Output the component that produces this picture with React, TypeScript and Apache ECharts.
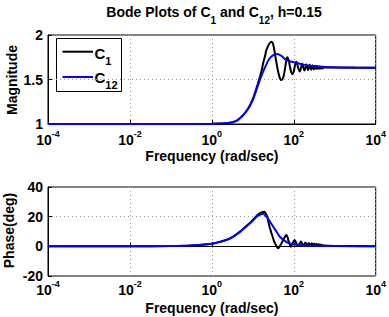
import React, { useEffect, useRef } from 'react';
import * as echarts from 'echarts';

// ---- Data (frequency in rad/sec) ----
const magFreqC1 = [1e-4, 1e-2, 0.1, 1, 2.51, 3.98, 5.01, 6.31, 7.94, 10, 12.6, 15.8, 17.8, 20, 21.4, 25, 28.6, 31.6, 35.5, 39.8, 44.7, 50, 55, 60, 65, 69, 75, 80, 87, 93, 100, 107, 116, 128, 140, 150, 160, 171, 182, 193, 203, 214, 224, 245, 266, 287, 308, 329, 350, 371, 392, 413, 434, 455, 476, 497, 518, 540, 600, 1000, 1e4];
const magC1 = [1.0, 1.0, 1.0, 1.002, 1.01, 1.036, 1.07, 1.12, 1.185, 1.28, 1.42, 1.57, 1.68, 1.77, 1.83, 1.9, 1.925, 1.89, 1.76, 1.63, 1.53, 1.494, 1.52, 1.6, 1.7, 1.75, 1.72, 1.65, 1.58, 1.56, 1.59, 1.66, 1.7, 1.63, 1.59, 1.63, 1.68, 1.635, 1.6, 1.635, 1.672, 1.635, 1.605, 1.665, 1.61, 1.66, 1.613, 1.655, 1.617, 1.652, 1.62, 1.649, 1.622, 1.647, 1.624, 1.645, 1.626, 1.643, 1.636, 1.634, 1.633];

const magFreqC12 = [1e-4, 1e-2, 0.1, 1, 2.51, 3.98, 5.01, 6.31, 7.94, 10, 12.6, 15.8, 20, 25.1, 31.6, 39.8, 50.1, 63.1, 79.4, 100, 158, 316, 794, 3162, 1e4];
const magC12 = [1.0, 1.0, 1.0, 1.002, 1.01, 1.035, 1.07, 1.12, 1.18, 1.27, 1.4, 1.53, 1.64, 1.73, 1.775, 1.787, 1.765, 1.725, 1.705, 1.695, 1.67, 1.65, 1.638, 1.634, 1.633];

const phFreqC1 = [1e-4, 1e-2, 0.1, 0.316, 1, 1.58, 2.75, 4.8, 8.5, 10, 12.6, 15.8, 18.9, 22.4, 25.1, 28.6, 33, 38, 41.4, 46.8, 55, 66, 75.9, 85, 95, 105, 118, 128, 139, 150, 171, 192, 213, 234, 255, 276, 297, 318, 339, 360, 381, 402, 423, 444, 500, 700, 1000, 1e4];
const phC1 = [0, 0, 0.2, 0.6, 1.8, 3.0, 5.3, 9.8, 15.8, 17.8, 20.8, 22.7, 23.3, 20, 14, 8.8, 3.5, 0, -1.3, 0.5, 4.2, 7.6, 3, -0.3, 2.5, 4.2, 1.5, 0.3, 1.8, 3.2, 0.5, 2.6, 0.6, 2.3, 0.6, 2.0, 0.6, 1.8, 0.6, 1.6, 0.6, 1.4, 0.6, 1.2, 0.7, 0.4, 0.3, 0];

const phFreqC12 = [1e-4, 1e-2, 0.1, 0.316, 1, 1.58, 2.75, 4.8, 8.5, 10, 12.6, 15.8, 17.8, 22.4, 26.3, 31.6, 39.8, 45.7, 63, 79.4, 126, 316, 1000, 1e4];
const phC12 = [0, 0, 0.2, 0.6, 1.8, 3.0, 5.2, 9.6, 15.5, 17.3, 20.2, 21.6, 21.9, 19.3, 16.5, 13.2, 9, 6.5, 3.3, 2.0, 0.9, 0.4, 0.15, 0];

const xTicksExp = [-4, -2, 0, 2, 4];
const magTicks = [1, 1.5, 2];
const phaseTicks = [-20, 0, 20, 40];

const FONT = '"Liberation Sans", Arial, Helvetica, sans-serif';

const zip = (f: number[], v: number[]) => f.map((x, i) => [x, v[i]]);

const xLabelFmt = (v: number) => {
  const e = Math.round(Math.log10(v));
  return `{b|10}{s|${e}}`;
};

const xAxisCommon = (gridIndex: number, margin: number) => ({
  type: 'log' as const,
  gridIndex,
  logBase: 10,
  min: Math.pow(10, xTicksExp[0]),
  max: Math.pow(10, xTicksExp[xTicksExp.length - 1]),
  interval: 2,
  name: 'Frequency (rad/sec)',
  nameLocation: 'middle' as const,
  nameGap: 25,
  nameTextStyle: { fontFamily: FONT, fontWeight: 'bold', fontSize: 14, color: '#000' },
  axisLine: { show: true, lineStyle: { color: '#000', width: 1 } },
  axisTick: { show: true, inside: true, length: 4, lineStyle: { color: '#000' } },
  minorTick: { show: false },
  splitLine: { show: true, lineStyle: { color: '#999', type: [1, 3], width: 1 } },
  axisLabel: {
    formatter: xLabelFmt,
    margin,
    showMinLabel: true,
    showMaxLabel: true,
    rich: {
      b: { fontFamily: FONT, fontWeight: 'bold', fontSize: 14, color: '#000', verticalAlign: 'bottom' },
      s: { fontFamily: FONT, fontWeight: 'bold', fontSize: 9, color: '#000', verticalAlign: 'bottom', padding: [0, 0, 9, 0] },
    },
  },
});

const yAxisCommon = (gridIndex: number, ticks: number[]) => ({
  type: 'value' as const,
  gridIndex,
  min: ticks[0],
  max: ticks[ticks.length - 1],
  interval: ticks[1] - ticks[0],
  axisLine: { show: true, lineStyle: { color: '#000', width: 1 } },
  axisTick: { show: true, inside: true, length: 4, lineStyle: { color: '#000' } },
  splitLine: { show: true, lineStyle: { color: '#999', type: [1, 3], width: 1 } },
  axisLabel: { fontFamily: FONT, fontWeight: 'bold', fontSize: 14, color: '#000', margin: 5 },
});

export default function App() {
  const ref = useRef<HTMLDivElement>(null);
  useEffect(() => {
    if (!ref.current) return;
    const chart = echarts.init(ref.current, undefined, { renderer: 'svg' });
    const legendRich = {
      c: { fontFamily: FONT, fontWeight: 'bold', fontSize: 15, fill: '#000', verticalAlign: 'bottom', padding: [0, 0, 5, 0] },
      n: { fontFamily: FONT, fontWeight: 'bold', fontSize: 11, fill: '#000', verticalAlign: 'bottom' },
    };
    chart.setOption({
      animation: false,
      backgroundColor: '#fff',
      grid: [
        { left: 48, right: 13, top: 35, height: 89, show: true, borderColor: '#000', borderWidth: 1, backgroundColor: '#fff' },
        { left: 48, right: 13, top: 187, height: 89, show: true, borderColor: '#000', borderWidth: 1, backgroundColor: '#fff' },
      ],
      xAxis: [xAxisCommon(0, 5), xAxisCommon(1, 3)],
      yAxis: [yAxisCommon(0, magTicks), yAxisCommon(1, phaseTicks)],
      series: [
        { name: 'C1', type: 'line', xAxisIndex: 0, yAxisIndex: 0, data: zip(magFreqC1, magC1), showSymbol: false, symbol: 'none', smooth: 0.3, lineStyle: { color: '#000', width: 2 }, itemStyle: { color: '#000' } },
        { name: 'C12', type: 'line', xAxisIndex: 0, yAxisIndex: 0, data: zip(magFreqC12, magC12), showSymbol: false, symbol: 'none', smooth: 0.3, lineStyle: { color: '#0000ff', width: 2 }, itemStyle: { color: '#0000ff' } },
        { name: 'C1', type: 'line', xAxisIndex: 1, yAxisIndex: 1, data: zip(phFreqC1, phC1), showSymbol: false, symbol: 'none', smooth: 0.3, lineStyle: { color: '#000', width: 2 }, itemStyle: { color: '#000' } },
        { name: 'C12', type: 'line', xAxisIndex: 1, yAxisIndex: 1, data: zip(phFreqC12, phC12), showSymbol: false, symbol: 'none', smooth: 0.3, lineStyle: { color: '#0000ff', width: 2 }, itemStyle: { color: '#0000ff' } },
      ],
      graphic: [
        {
          type: 'text', x: 214, y: 15, z: 10,
          style: {
            text: '{t|Bode Plots of C}{u|1}{t| and C}{u|12}{t|, h=0.15}',
            align: 'center', verticalAlign: 'middle',
            rich: {
              t: { fontFamily: FONT, fontWeight: 'bold', fontSize: 14, fill: '#000', verticalAlign: 'bottom', padding: [0, 0, 6, 0] },
              u: { fontFamily: FONT, fontWeight: 'bold', fontSize: 10, fill: '#000', verticalAlign: 'bottom' },
            },
          },
        },
        {
          type: 'text', x: 12, y: 80, rotation: Math.PI / 2, z: 10,
          style: { text: 'Magnitude', fontFamily: FONT, fontWeight: 'bold', fontSize: 14, fill: '#000', align: 'center', verticalAlign: 'middle' },
        },
        {
          type: 'text', x: 8.5, y: 230.5, rotation: Math.PI / 2, z: 10,
          style: { text: 'Phase(deg)', fontFamily: FONT, fontWeight: 'bold', fontSize: 14, fill: '#000', align: 'center', verticalAlign: 'middle' },
        },
        {
          type: 'group', z: 20,
          children: [
            { type: 'rect', shape: { x: 56.5, y: 38.5, width: 65, height: 53 }, style: { fill: '#fff', stroke: '#000', lineWidth: 1 } },
            { type: 'line', shape: { x1: 62.5, y1: 51.7, x2: 93, y2: 51.7 }, style: { stroke: '#000', lineWidth: 2 } },
            { type: 'line', shape: { x1: 62.5, y1: 77, x2: 93, y2: 77 }, style: { stroke: '#0000ff', lineWidth: 2 } },
            { type: 'text', x: 94.5, y: 56, style: { text: '{c|C}{n|1}', align: 'left', verticalAlign: 'middle', rich: legendRich } },
            { type: 'text', x: 94.5, y: 80, style: { text: '{c|C}{n|12}', align: 'left', verticalAlign: 'middle', rich: legendRich } },
          ],
        },
      ],
    });
    return () => chart.dispose();
  }, []);
  return <div ref={ref} style={{ position: 'fixed', left: 0, top: 0, width: 389, height: 317, background: '#fff' }} />;
}
